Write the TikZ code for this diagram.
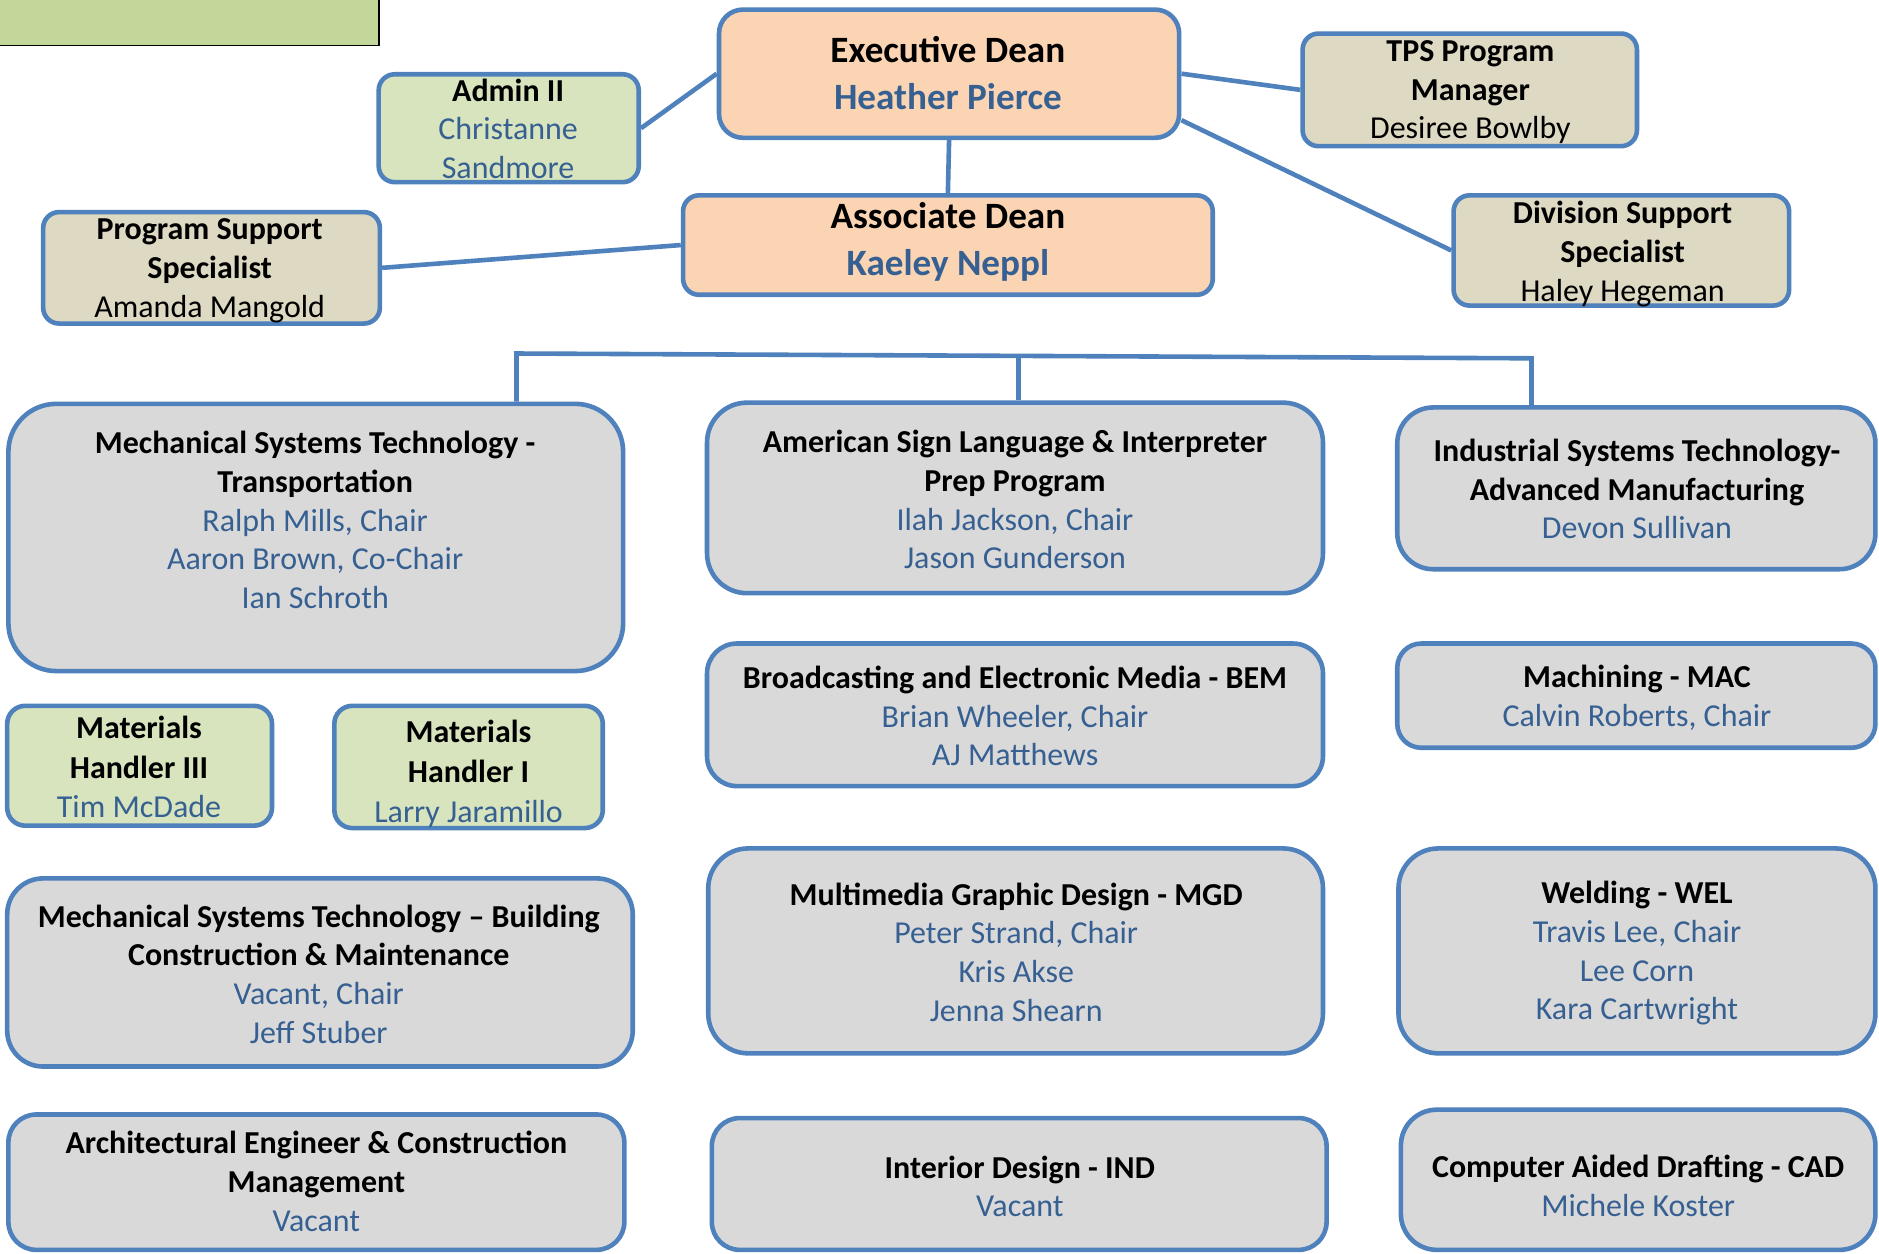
\documentclass[tikz,border=0pt]{standalone}
\usepackage{fontspec}
\setmainfont{Carlito}
\usetikzlibrary{fit,calc}
\definecolor{bord}{HTML}{4F81BD}
\definecolor{namec}{HTML}{376092}
\definecolor{peach}{HTML}{FBD4B4}
\definecolor{lgreen}{HTML}{D7E4BD}
\definecolor{tan}{HTML}{DDD9C3}
\definecolor{lgray}{HTML}{D9D9D9}
\definecolor{olive}{HTML}{C4D79B}
\tikzset{
  box/.style={draw=bord, line width=2.3pt, inner sep=0pt},
  conn/.style={draw=bord, line width=2.3pt},
  txt/.style={align=center, font=\fontsize{16}{19.4}\selectfont, inner sep=0pt},
  bigtxt/.style={align=center, font=\fontsize{18.6}{23.4}\selectfont\bfseries, inner sep=0pt},
}
\newcommand{\nm}[1]{{\mdseries\color{namec}#1}}
\begin{document}
\begin{tikzpicture}[x=0.6pt,y=-0.6pt]
\useasboundingbox (0,0) rectangle (1568,1046);
\clip (0,0) rectangle (1568,1046);
\fill[white] (0,0) rectangle (1568,1046);
% top-left plain rectangle
\draw[fill=olive, line width=0.9pt] (-5,-5) rectangle (316,38);

% ---- top level
\node[box, fill=peach, rounded corners=12pt, fit={(600,8) (984,115)}] (exec) {};
\node[bigtxt] (execT) at (791,61) {Executive Dean\\\color{namec}Heather Pierce};

\node[box, fill=lgreen, rounded corners=8pt, fit={(316,62) (533,152)}] (adm) {};
\node[txt] (admT) at (424,107.5) {\textbf{Admin II}\\\nm{Christanne}\\\nm{Sandmore}};

\node[box, fill=tan, rounded corners=8pt, fit={(1087,28) (1366,122)}] (tps) {};
\node[txt] (tpsT) at (1227,77) {\textbf{TPS Program}\\\textbf{Manager}\\Desiree Bowlby};

\node[box, fill=peach, rounded corners=8pt, fit={(570,163) (1012,246)}] (assoc) {};
\node[bigtxt] (assocT) at (791,202) {Associate Dean\\\color{namec}Kaeley Neppl};

\node[box, fill=tan, rounded corners=8pt, fit={(36,177) (317,270)}] (pss) {};
\node[txt] (pssT) at (175,226) {\textbf{Program Support}\\\textbf{Specialist}\\Amanda Mangold};

\node[box, fill=tan, rounded corners=8pt, fit={(1213,163) (1493,255)}] (dss) {};
\node[txt] (dssT) at (1354,212) {\textbf{Division Support}\\\textbf{Specialist}\\Haley Hegeman};

% ---- departments
\node[box, fill=lgray, rounded corners=24pt, fit={(7,337) (520,560)}] (mstt) {};
\node[txt] (msttT) at (263,434) {\textbf{Mechanical Systems Technology -}\\\textbf{Transportation}\\\nm{Ralph Mills, Chair}\\\nm{Aaron Brown, Co-Chair}\\\nm{Ian Schroth}};

\node[box, fill=lgray, rounded corners=20pt, fit={(590,336) (1104,495)}] (asl) {};
\node[txt] (aslT) at (847,417) {\textbf{American Sign Language \& Interpreter}\\\textbf{Prep Program}\\\nm{Ilah Jackson, Chair}\\\nm{Jason Gunderson}};

\node[box, fill=lgray, rounded corners=18pt, fit={(1166,340) (1565,475)}] (ist) {};
\node[txt] (istT) at (1366,408) {\textbf{Industrial Systems Technology-}\\\textbf{Advanced Manufacturing}\\\nm{Devon Sullivan}};

\node[box, fill=lgreen, rounded corners=9pt, fit={(6,589) (227,689)}] (mh3) {};
\node[txt, font=\fontsize{16}{20}\selectfont] (mh3T) at (116,640) {\textbf{Materials}\\\textbf{Handler III}\\\nm{Tim McDade}};

\node[box, fill=lgreen, rounded corners=9pt, fit={(279,589) (503,691)}] (mh1) {};
\node[txt, font=\fontsize{16}{20}\selectfont] (mh1T) at (391,645.5) {\textbf{Materials}\\\textbf{Handler I}\\\nm{Larry Jaramillo}};

\node[box, fill=lgray, rounded corners=15pt, fit={(590,537) (1104,656)}] (bem) {};
\node[txt] (bemT) at (847,597.5) {\textbf{Broadcasting and Electronic Media - BEM}\\\nm{Brian Wheeler, Chair}\\\nm{AJ Matthews}};

\node[box, fill=lgray, rounded corners=12pt, fit={(1166,537) (1565,624)}] (mac) {};
\node[txt] (macT) at (1366,582.5) {\textbf{Machining - MAC}\\\nm{Calvin Roberts, Chair}};

\node[box, fill=lgray, rounded corners=18pt, fit={(6,733) (528,890)}] (mstb) {};
\node[txt] (mstbT) at (266,813) {\textbf{Mechanical Systems Technology -- Building}\\\textbf{Construction \& Maintenance}\\\nm{Vacant, Chair}\\\nm{Jeff Stuber}};

\node[box, fill=lgray, rounded corners=20pt, fit={(591,708) (1104,879)}] (mgd) {};
\node[txt] (mgdT) at (848,794.5) {\textbf{Multimedia Graphic Design - MGD}\\\nm{Peter Strand, Chair}\\\nm{Kris Akse}\\\nm{Jenna Shearn}};

\node[box, fill=lgray, rounded corners=20pt, fit={(1167,708) (1565,879)}] (wel) {};
\node[txt] (welT) at (1366,795.5) {\textbf{Welding - WEL}\\\nm{Travis Lee, Chair}\\\nm{Lee Corn}\\\nm{Kara Cartwright}};

\node[box, fill=lgray, rounded corners=14pt, fit={(7,930) (521,1043)}] (arch) {};
\node[txt] (archT) at (264,986) {\textbf{Architectural Engineer \& Construction}\\\textbf{Management}\\\nm{Vacant}};

\node[box, fill=lgray, rounded corners=14pt, fit={(594,933) (1107,1043)}] (ind) {};
\node[txt] (indT) at (851,990) {\textbf{Interior Design - IND}\\\nm{Vacant}};

\node[box, fill=lgray, rounded corners=18pt, fit={(1169,926) (1565,1043)}] (cad) {};
\node[txt] (cadT) at (1367,989.5) {\textbf{Computer Aided Drafting - CAD}\\\nm{Michele Koster}};

% ---- connectors
\draw[conn] (adm.east) -- (exec.west);
\draw[conn] (exec.east) -- (tps.west);
\draw[conn] ($(exec.east)!0.7!(exec.south east)$) -- (dss.west);
\draw[conn] (exec.south) -- (assoc.north);
\draw[conn] (pss.east) -- (assoc.west);

\coordinate (bL) at (431,295);
\coordinate (bM) at (850,297);
\coordinate (bR) at (1278,299);
\draw[conn] (mstt.north -| bL) -- (bL) -- (bR) -- (ist.north -| bR);
\draw[conn] (bM) -- (asl.north -| bM);
\end{tikzpicture}
\end{document}
